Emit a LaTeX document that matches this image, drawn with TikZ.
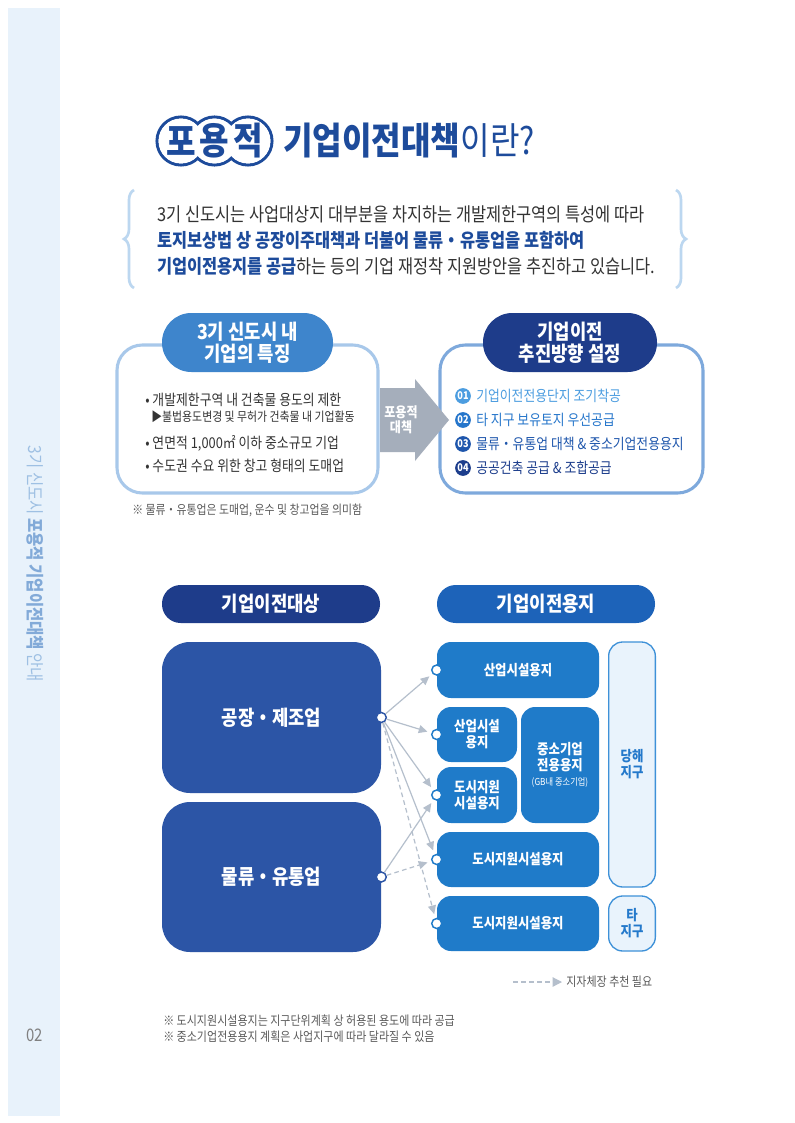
\documentclass[tikz,border=0pt]{standalone}
\usepackage{fontspec}
\setmainfont{Noto Sans CJK KR}[FakeStretch=0.86]
\usetikzlibrary{arrows.meta,decorations.pathreplacing}

\definecolor{titleblue}{HTML}{1D4B9B}
\definecolor{textgray}{HTML}{333333}
\definecolor{notegray}{HTML}{5A5A5A}
\definecolor{bracecol}{HTML}{BCD7F0}
\definecolor{sidecol}{HTML}{E8F2FB}
\definecolor{sidetext}{HTML}{9EC0E3}
\definecolor{sidebold}{HTML}{82AAD8}
\definecolor{featblue}{HTML}{3E85CC}
\definecolor{featline}{HTML}{A8C8EA}
\definecolor{planline}{HTML}{7EA9DC}
\definecolor{navy}{HTML}{1E3C8A}
\definecolor{arrgray}{HTML}{A5AEBB}
\definecolor{numA}{HTML}{4C9DE0}
\definecolor{numB}{HTML}{2676CB}
\definecolor{numC}{HTML}{1E56AC}
\definecolor{numD}{HTML}{1C3D8C}
\definecolor{landhead}{HTML}{1D63B9}
\definecolor{bigblue}{HTML}{2C55A6}
\definecolor{landblue}{HTML}{1F7BC9}
\definecolor{zonefill}{HTML}{E9F3FC}
\definecolor{zoneline}{HTML}{3E91D8}
\definecolor{zonetext}{HTML}{2479CB}
\definecolor{linkgray}{HTML}{B5BFCC}

\tikzset{
titlechar/.style={text=titleblue, inner sep=0pt, font=\fontsize{28}{28}\selectfont\bfseries},
leadtext/.style={anchor=west, inner sep=0pt, text=textgray, font=\fontsize{14.3}{16}\selectfont},
boxfeat/.style={draw=featline, line width=2.3pt, fill=white, rounded corners=19pt, minimum width=195.75pt, minimum height=111pt},
boxplan/.style={boxfeat, draw=planline, minimum width=197.25pt},
midpill/.style={rounded corners=22pt, minimum width=128.25pt, minimum height=44.25pt, text=white, align=center, font=\fontsize{15.5}{16.5}\selectfont\bfseries},
featitem/.style={anchor=west, inner sep=0pt, text=textgray, font=\fontsize{11.2}{12}\selectfont},
numdot/.style={circle, minimum size=11.8pt, inner sep=0pt, text=white, font=\fontsize{8}{8}\selectfont\bfseries},
planitem/.style={anchor=west, inner sep=0pt, font=\fontsize{11.2}{12}\selectfont},
remark/.style={anchor=west, inner sep=0pt, text=notegray, font=\fontsize{9.5}{10}\selectfont},
headpill/.style={rounded corners=14pt, minimum width=163.5pt, minimum height=28.5pt, text=white, font=\fontsize{15.5}{18}\selectfont\bfseries},
bigbox/.style={fill=bigblue, rounded corners=21pt, minimum width=164.25pt, text=white, font=\fontsize{15.5}{18}\selectfont\bfseries},
landbox/.style={fill=landblue, rounded corners=10.5pt, text=white, align=center, inner sep=0pt, font=\fontsize{10.8}{12}\selectfont\bfseries},
zonebox/.style={fill=zonefill, draw=zoneline, line width=1pt, rounded corners=10.5pt, minimum width=35pt, text=zonetext, align=center, font=\fontsize{10.8}{12}\selectfont\bfseries},
lport/.style={circle, fill=white, draw=bigblue, line width=1.1pt, minimum size=7.5pt, inner sep=0pt},
rport/.style={lport, draw=landblue},
feed/.style={draw=linkgray, line width=0.9pt, -{Triangle[length=6.5pt,width=6pt]}, shorten >=3pt},
dfeed/.style={feed, dash pattern=on 3.5pt off 2.5pt}
}

\begin{document}
\begin{tikzpicture}[x=0.75pt,y=-0.75pt]
\path[use as bounding box, fill=white] (0,0) rectangle (794,1123);

%Side bar
\fill[sidecol] (8,8) rectangle (60,1116);
\node[rotate=-90, text=sidetext, font=\fontsize{13.5}{14}\selectfont] (side) at (35,564) {3기 신도시 {\bfseries\color{sidebold}포용적 기업이전대책} 안내};
\node[text=gray, font=\fontsize{13}{14}\selectfont] (page) at (35,1035) {02};

%Title
\draw[titleblue, line width=2.3pt, fill=white] (181,141) circle [radius=18pt]; \draw[titleblue, line width=2.3pt, fill=white] (214.5,141) circle [radius=18pt]; \draw[titleblue, line width=2.3pt, fill=white] (248,141) circle [radius=18pt];
\fill[white] (181,141) circle [radius=16.85pt]; \fill[white] (214.5,141) circle [radius=16.85pt]; \fill[white] (248,141) circle [radius=16.85pt];
\node[titlechar] (po) at (181,141) {포}; \node[titlechar] (yong) at (214.5,141) {용}; \node[titlechar] (jeok) at (248,141) {적};
\node[anchor=west, inner sep=0pt, text=titleblue, font=\fontsize{28}{30}\selectfont] (title) at (283,141) {{\bfseries 기업이전대책}이란?};

%Lead text
\draw[bracecol, line width=2pt, decorate, decoration={brace, amplitude=7.5pt}] (134,288) -- (134,190);
\draw[bracecol, line width=2pt, decorate, decoration={brace, amplitude=7.5pt}] (676,190) -- (676,288);
\node[leadtext] (lead1) at (157,214) {3기 신도시는 사업대상지 대부분을 차지하는 개발제한구역의 특성에 따라};
\node[leadtext, text=titleblue, font=\fontsize{14.3}{16}\selectfont\bfseries] (lead2) at (157,240) {토지보상법 상 공장이주대책과 더불어 물류・유통업을 포함하여};
\node[leadtext] (lead3) at (157,266) {{\bfseries\color{titleblue}기업이전용지를 공급}하는 등의 기업 재정착 지원방안을 추진하고 있습니다.};

%Middle part
\node[boxfeat] (featbox) at (247.5,419) {};
\node[boxplan] (planbox) at (571.5,419) {};
\node[midpill, fill=featblue] (feat) at (247.5,342.5) {3기 신도시 내\\기업의 특징};
\node[midpill, fill=navy, minimum width=130.5pt] (plan) at (570,342.5) {기업이전\\추진방향 설정};
\fill[arrgray] (380,388) -- (415,388) -- (415,379) -- (449,420) -- (415,461) -- (415,452) -- (380,452) -- cycle;
\node[text=white, align=center, font=\fontsize{10.5}{11}\selectfont\bfseries] (arwtxt) at (401,420) {포용적\\대책};

\node[featitem] (f1) at (145,400) {• 개발제한구역 내 건축물 용도의 제한};
\node[featitem, font=\fontsize{9.5}{10}\selectfont] (f1b) at (151,417) {▶불법용도변경 및 무허가 건축물 내 기업활동};
\node[featitem] (f2) at (145,443) {• 연면적 1,000㎡ 이하 중소규모 기업};
\node[featitem] (f3) at (145,466) {• 수도권 수요 위한 창고 형태의 도매업};
\node[remark] (rem1) at (132,510) {※ 물류・유통업은 도매업, 운수 및 창고업을 의미함};

\node[numdot, fill=numA] (n1) at (463,396) {01}; \node[planitem, text=numA] (p1) at (476,396) {기업이전전용단지 조기착공};
\node[numdot, fill=numB] (n2) at (463,420) {02}; \node[planitem, text=numB] (p2) at (476,420) {타 지구 보유토지 우선공급};
\node[numdot, fill=numC] (n3) at (463,444) {03}; \node[planitem, text=numC] (p3) at (476,444) {물류・유통업 대책 \& 중소기업전용용지};
\node[numdot, fill=numD] (n4) at (463,468) {04}; \node[planitem, text=numD] (p4) at (476,468) {공공건축 공급 \& 조합공급};

%Second part
\node[headpill, fill=navy] (target) at (271,604) {기업이전대상};
\node[headpill, fill=landhead] (land) at (546,604) {기업이전용지};

\node[bigbox, minimum height=113.25pt] (fac) at (271.5,717.5) {공장・제조업};
\node[bigbox, minimum height=112.5pt] (logi) at (271.5,877) {물류・유통업};

\node[landbox, minimum width=121.5pt, minimum height=42pt] (ind1) at (518,670) {산업시설용지};
\node[landbox, minimum width=60pt, minimum height=41.25pt] (ind2) at (477,734.5) {산업시설\\용지};
\node[landbox, minimum width=60pt, minimum height=42pt] (civ1) at (477,795) {도시지원\\시설용지};
\node[landbox, minimum width=58.5pt, minimum height=87pt] (sme) at (560,765) {중소기업\\전용용지\\[-1pt]{\fontsize{7.2}{8}\selectfont\mdseries (GB내 중소기업)}};
\node[landbox, minimum width=121.5pt, minimum height=41.25pt] (civ2) at (518,859.5) {도시지원시설용지};
\node[landbox, minimum width=121.5pt, minimum height=41.25pt] (civ3) at (518,923.5) {도시지원시설용지};
\node[zonebox, minimum height=183.75pt] (here) at (632,764.5) {당해\\지구};
\node[zonebox, minimum height=41.25pt] (other) at (632,923.5) {타\\지구};

\node[lport] (pfac) at (fac.east) {}; \node[lport] (plogi) at (logi.east) {};
\node[rport] (pind1) at (ind1.west) {}; \node[rport] (pind2) at (ind2.west) {}; \node[rport] (pciv1) at (civ1.west) {}; \node[rport] (pciv2) at (civ2.west) {}; \node[rport] (pciv3) at (civ3.west) {};

\draw[feed] (pfac) -- (pind1); \draw[feed] (pfac) -- (pind2); \draw[feed] (pfac) -- (pciv1); \draw[feed] (pfac) -- (pciv2); \draw[dfeed] (pfac) -- (pciv3);
\draw[feed] (plogi) -- (pciv1); \draw[dfeed] (plogi) -- (pciv2);

%Legend and notes
\node[remark, text=notegray, font=\fontsize{9.6}{10}\selectfont] (legend) at (566,982) {지자체장 추천 필요};
\coordinate (lg) at (513,982);
\draw[dfeed, -{Triangle[length=7pt,width=7pt]}] (lg) -- (legend.west);
\node[remark, font=\fontsize{9.6}{10}\selectfont] (rem2) at (163,1021) {※ 도시지원시설용지는 지구단위계획 상 허용된 용도에 따라 공급};
\node[remark, font=\fontsize{9.6}{10}\selectfont] (rem3) at (163,1037) {※ 중소기업전용용지 계획은 사업지구에 따라 달라질 수 있음};
\end{tikzpicture}
\end{document}
